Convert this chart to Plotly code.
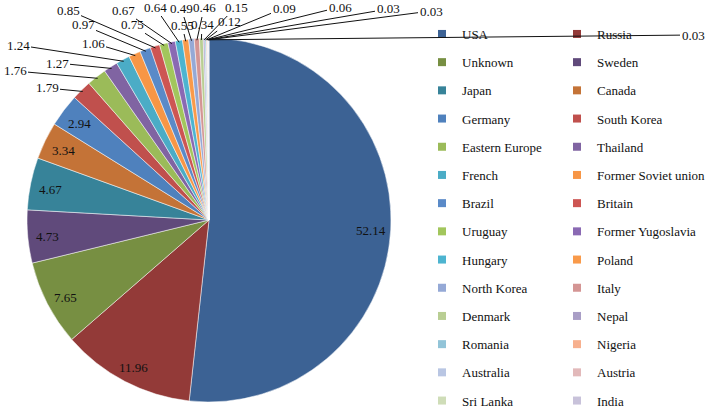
import math
import plotly.graph_objects as go

# Share of samples by country (%)
countries = ['USA', 'Russia', 'Unknown', 'Sweden', 'Japan', 'Canada', 'Germany',
             'South Korea', 'Eastern Europe', 'Thailand', 'French', 'Former Soviet union',
             'Brazil', 'Britain', 'Uruguay', 'Former Yugoslavia', 'Hungary', 'Poland',
             'North Korea', 'Italy', 'Denmark', 'Nepal', 'Romania', 'Nigeria',
             'Australia', 'Austria', 'Sri Lanka', 'India']
shares = [52.14, 11.96, 7.65, 4.73, 4.67, 3.34, 2.94,
          1.79, 1.76, 1.27, 1.24, 1.06,
          0.97, 0.85, 0.75, 0.67, 0.64, 0.55,
          0.49, 0.46, 0.34, 0.15, 0.12, 0.09,
          0.06, 0.03, 0.03, 0.03]
colors = ['#3C6294', '#933A38', '#778F42', '#604A7B', '#378399', '#C47337',
          '#4F81BD', '#C0504D', '#9BBB59', '#8064A2', '#4BACC6', '#F79646',
          '#5A8AC8', '#CD5553', '#A2C65C', '#8A69B3', '#4DB4D0', '#F99A4A',
          '#95A9D6', '#D49594', '#B9CE93', '#A99EC6', '#92C4D8', '#F7B08E',
          '#B9C6E3', '#E2B9BA', '#CFDDB8', '#C8C2DA']

# where the outside labels sit (pixels), for the small slices from South Korea on
outside_label_px = [(47, 88), (15, 71), (57, 63), (18, 45), (93, 43), (83, 25),
                    (68, 10), (132, 25), (123, 10), (155, 7), (182, 25), (181, 8),
                    (204, 8), (202, 25), (236, 7), (229, 22), (284, 8), (340, 7),
                    (388, 9), (431, 11), (693, 35)]

FONT = 'Times New Roman, Liberation Serif, serif'
W, H = 708, 411
D = 364  # pie diameter in px
ML, MT = 209 - D // 2, 220 - D // 2
MB = H - MT - D
PW, PH = W - ML, D
cx, cy, R = ML + D / 2, MT + D / 2, D / 2

fig = go.Figure()
fig.add_trace(go.Pie(
    labels=countries, values=shares, sort=False, direction='clockwise', rotation=0,
    marker=dict(colors=colors, line=dict(color='white', width=0.5)),
    textinfo='none', showlegend=False,
    domain=dict(x=[0, D / PW], y=[0, 1]),
))

def to_paper(px, py):
    return (px - ML) / PW, 1 - (py - MT) / PH

# value labels: inside near the rim for big slices, outside with leader lines for small ones
total = sum(shares)
cum = 0
for i, v in enumerate(shares):
    ang = 2 * math.pi * (cum + v / 2) / total
    cum += v
    sx, sy = math.sin(ang), -math.cos(ang)
    if i < 7:
        x, y = to_paper(cx + 0.89 * R * sx, cy + 0.9 * R * sy + 2)
        fig.add_annotation(x=x, y=y, xref='paper', yref='paper', text=f'{v:g}',
                           xanchor='center', yanchor='middle', showarrow=False,
                           font=dict(family=FONT, size=13, color='#111111'))
    else:
        tx, ty = cx + 0.99 * R * sx, cy + 0.99 * R * sy
        lx, ly = outside_label_px[i - 7]
        x, y = to_paper(tx, ty)
        fig.add_annotation(x=x, y=y, xref='paper', yref='paper', text=f'{v:g}',
                           ax=lx - tx, ay=ly - ty, showarrow=True, arrowhead=0,
                           arrowwidth=1, arrowcolor='#111111', standoff=0,
                           font=dict(family=FONT, size=13, color='#111111'))

# legend entries in two columns (row-major order)
for i, (name, col) in enumerate(zip(countries, colors)):
    fig.add_trace(go.Scatter(
        x=[None], y=[None], mode='markers', name=name, legendgroup=name,
        marker=dict(symbol='square', size=8, color=col),
        legend='legend' if i % 2 == 0 else 'legend2',
    ))

legend_style = dict(font=dict(family=FONT, size=13, color='#111111'),
                    tracegroupgap=8.3, yanchor='top', xanchor='left',
                    bgcolor='rgba(0,0,0,0)', maxheight=420)
legend_top = 1 + (MT - 19) / PH
fig.update_layout(
    width=W, height=H,
    margin=dict(l=ML, r=0, t=MT, b=MB, autoexpand=False),
    paper_bgcolor='white', plot_bgcolor='white',
    font=dict(family=FONT, size=13, color='#111111'),
    xaxis=dict(visible=False), yaxis=dict(visible=False),
    legend=dict(x=(422 - ML) / PW, y=legend_top, **legend_style),
    legend2=dict(x=(557 - ML) / PW, y=legend_top, **legend_style),
)

# drop the default 8px body margin so the figure fills the window
fig.write_html('out.html', config={'displayModeBar': False},
               post_script="document.body.style.margin = '0';")
